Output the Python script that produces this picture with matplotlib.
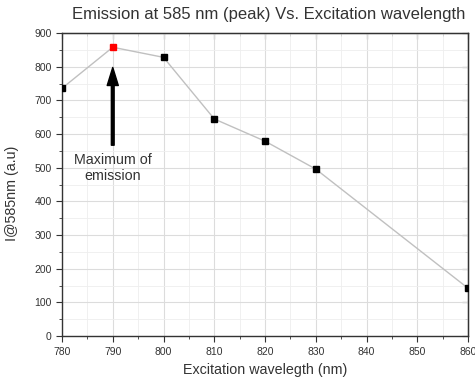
import numpy as np
import matplotlib.pyplot as plt
from matplotlib.ticker import MultipleLocator, NullFormatter

plt.rcParams['font.family'] = ['Liberation Sans', 'DejaVu Sans']

# data
wavelength = [780, 790, 800, 810, 820, 830, 860]
intensity = [736, 858, 828, 645, 579, 496, 142]
peak_idx = 1

fig = plt.figure(figsize=(4.75, 3.85), dpi=100)
ax = fig.add_axes([0.1305, 0.127, 0.855, 0.787])

ax.plot(wavelength, intensity, color='#c0c0c0', lw=1.0, zorder=2)
for i, (x, y) in enumerate(zip(wavelength, intensity)):
    ax.plot(x, y, 's', ms=5, color='red' if i == peak_idx else 'black', zorder=3)

ax.set_xlim(780, 860)
ax.set_ylim(0, 900)
ax.xaxis.set_major_locator(MultipleLocator(10))
ax.xaxis.set_minor_locator(MultipleLocator(5))
ax.yaxis.set_major_locator(MultipleLocator(100))
ax.yaxis.set_minor_locator(MultipleLocator(50))

ax.grid(which='major', color='#dcdcdc', lw=0.8)
ax.grid(which='minor', color='#eeeeee', lw=0.6)
ax.set_axisbelow(True)

for s in ax.spines.values():
    s.set_color('#333333')
    s.set_linewidth(1.0)

ax.tick_params(which='both', direction='out', labelsize=7.5, colors='#333333',
               labelcolor='#333333')
ax.tick_params(which='major', length=4)
ax.tick_params(which='minor', length=2)

# inward ticks on top and right, no labels
top = ax.secondary_xaxis('top')
right = ax.secondary_yaxis('right')
top.xaxis.set_major_locator(MultipleLocator(10))
top.xaxis.set_minor_locator(MultipleLocator(5))
right.yaxis.set_major_locator(MultipleLocator(100))
right.yaxis.set_minor_locator(MultipleLocator(50))
for sec in (top, right):
    sec.tick_params(which='both', direction='in', colors='#333333',
                    labeltop=False, labelright=False)
    sec.tick_params(which='major', length=4)
    sec.tick_params(which='minor', length=2)
top.xaxis.set_major_formatter(NullFormatter())
right.yaxis.set_major_formatter(NullFormatter())

ax.set_xlabel('Excitation wavelegth (nm)', fontsize=10.3, color='#333333', labelpad=5)
ax.set_ylabel('I@585nm (a.u)', fontsize=10.3, color='#333333', labelpad=9)
ax.yaxis.set_label_coords(-0.105, 0.47)
ax.set_title('Emission at 585 nm (peak) Vs. Excitation wavelength', fontsize=12,
             color='#333333', pad=10, x=0.51)

ax.annotate('', xy=(790, 798), xytext=(790, 567),
            arrowprops=dict(facecolor='black', edgecolor='black', width=2,
                            headwidth=8, headlength=13))
ax.text(790, 499, 'Maximum of\nemission', ha='center', va='center',
        fontsize=10.3, color='#333333', linespacing=1.25)

fig.savefig('out.png', dpi=100)
